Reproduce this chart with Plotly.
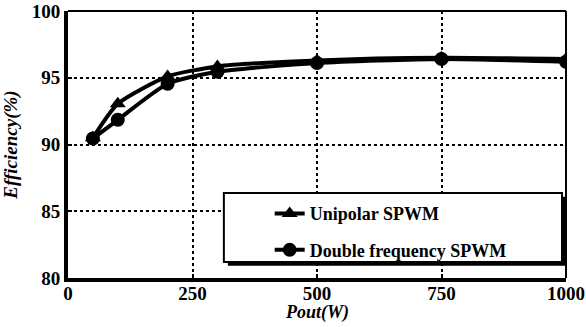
import plotly.graph_objects as go

# Output power (W) and measured efficiency (%) for the two modulation schemes
pout = [50, 100, 200, 300, 500, 750, 1000]
eff_unipolar = [90.5, 93.05, 95.1, 95.85, 96.3, 96.5, 96.4]
eff_double = [90.45, 91.85, 94.55, 95.45, 96.1, 96.4, 96.2]

x_ticks = [0, 250, 500, 750, 1000]
y_ticks = [80, 85, 90, 95, 100]
series_names = ["Unipolar SPWM", "Double frequency SPWM"]

FONT = "Liberation Serif"

fig = go.Figure()
fig.add_trace(go.Scatter(
    x=pout, y=eff_unipolar, mode="lines+markers", name="<b>" + series_names[0] + "</b>",
    line=dict(color="black", width=4, shape="spline", smoothing=0.6),
    marker=dict(symbol="triangle-up", size=14, color="black"),
    legendgroup="a",
))
fig.add_trace(go.Scatter(
    x=pout, y=eff_double, mode="lines+markers", name="<b>" + series_names[1] + "</b>",
    line=dict(color="black", width=4, shape="spline", smoothing=0.6),
    marker=dict(symbol="circle", size=14, color="black"),
    legendgroup="b",
))

# legend frame with a drop shadow
lx0, lx1, ly0, ly1 = 0.313, 0.992, 0.06, 0.318
fig.add_shape(type="rect", xref="paper", yref="paper",
              x0=lx0 + 0.008, x1=lx1 + 0.008, y0=ly0 - 0.014, y1=ly1 - 0.014,
              fillcolor="black", line=dict(color="black", width=0), layer="above")
fig.add_shape(type="rect", xref="paper", yref="paper",
              x0=lx0, x1=lx1, y0=ly0, y1=ly1,
              fillcolor="white", line=dict(color="black", width=2), layer="above")

axis_common = dict(
    showgrid=True, gridcolor="black", gridwidth=1.5, griddash="dot",
    zeroline=False, ticks="inside", ticklen=4, tickwidth=2, tickcolor="black",
    tickfont=dict(family=FONT, size=19, color="black"),
    showline=True, linecolor="black", automargin=False,
)

fig.update_xaxes(
    **axis_common, range=[0, 1000], tickvals=x_ticks,
    ticktext=["<b>%d</b>" % v for v in x_ticks], linewidth=4,
    ticklabelstandoff=-5,
)
fig.update_yaxes(
    **axis_common, range=[80, 100], tickvals=y_ticks,
    ticktext=["<b>%d</b>" % v for v in y_ticks], linewidth=4,
    title=dict(text="<b><i>Efficiency(%)</i></b>", font=dict(family=FONT, size=19, color="black"), standoff=10),
)

# x-axis title placed directly under the tick labels
fig.add_annotation(
    text="<b><i>Pout(W)</i></b>", xref="paper", yref="paper", x=0.5, y=-0.13,
    xanchor="center", yanchor="middle", showarrow=False,
    font=dict(family=FONT, size=18, color="black"),
)

# thinner frame on the top and right sides
fig.add_shape(type="line", xref="paper", yref="paper", x0=0, x1=1, y0=1, y1=1,
              line=dict(color="black", width=2))
fig.add_shape(type="line", xref="paper", yref="paper", x0=1, x1=1, y0=0, y1=1,
              line=dict(color="black", width=2))

fig.update_layout(
    width=586, height=327,
    margin=dict(l=68, r=20, t=11, b=49),
    plot_bgcolor="white", paper_bgcolor="white",
    font=dict(family=FONT, color="black"),
    showlegend=True,
    legend=dict(
        x=0.405, y=0.31, xanchor="left", yanchor="top",
        bgcolor="rgba(0,0,0,0)", borderwidth=0,
        font=dict(family=FONT, size=18, color="black"),
        tracegroupgap=10,
    ),
)

fig.write_html("out.html")
